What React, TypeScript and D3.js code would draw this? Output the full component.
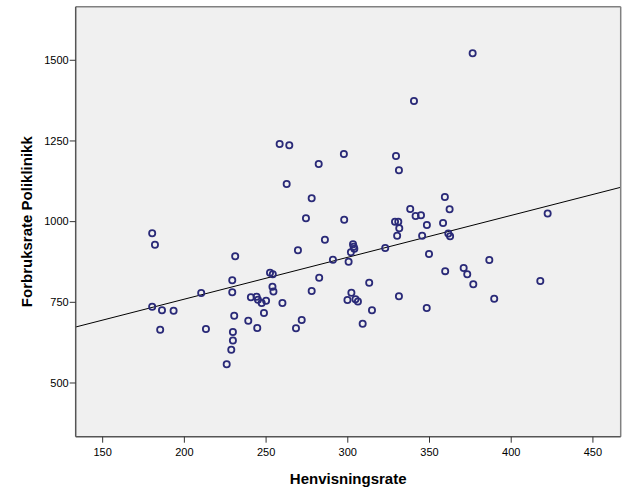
import React from "react";
import * as d3 from "d3";

const xVals = [
  376.4, 340.5, 258.3, 264.2, 297.6, 329.5, 331.3, 282.2, 262.6, 277.9,
  359.4, 338.2, 362.3, 341.5, 344.8, 274.4, 297.8, 328.9, 330.9, 348.4,
  358.3, 331.5, 330.2, 345.5, 361.5, 362.6, 422.3, 286.0, 269.5, 303.2,
  303.6, 304.0, 301.9, 322.9, 349.7, 290.9, 300.5, 252.4, 254.1, 282.5,
  313.1, 359.6, 253.9, 254.5, 277.9, 302.2, 240.7, 244.2, 245.0, 247.3,
  250.0, 248.7, 260.0, 299.8, 304.7, 306.2, 331.3, 348.3, 314.8, 239.1,
  271.8, 244.6, 268.3, 309.1, 180.3, 182.0, 231.1, 229.3, 210.3, 229.3,
  180.3, 186.3, 193.4, 230.5, 185.2, 213.2, 229.7, 229.7, 228.7, 225.9,
  386.6, 370.9, 373.1, 376.8, 417.8, 389.6,
];

const yVals = [
  1521.7, 1373.9, 1240.6, 1236.6, 1209.6, 1203.4, 1159.1, 1178.6, 1116.7, 1072.4,
  1076.4, 1039.2, 1038.3, 1017.5, 1019.7, 1010.4, 1005.7, 999.5, 999.5, 989.6,
  995.8, 979.7, 956.2, 956.2, 963.3, 954.6, 1025.3, 944.1, 911.2, 929.8,
  922.4, 916.2, 905.3, 918.3, 899.8, 882.1, 875.9, 841.8, 836.8, 826.3,
  810.8, 846.5, 798.1, 783.5, 785.1, 779.8, 765.6, 767.4, 758.1, 747.9,
  755.0, 716.9, 747.9, 757.2, 759.4, 752.6, 768.7, 732.4, 725.3, 693.1,
  695.2, 670.4, 669.5, 683.8, 963.9, 928.6, 892.6, 818.3, 778.9, 781.1,
  736.4, 725.3, 724.0, 708.2, 665.2, 667.3, 658.0, 631.7, 603.2, 557.9,
  881.2, 856.4, 836.8, 805.9, 816.1, 761.2,
];

const xTicks = [150, 200, 250, 300, 350, 400, 450];
const yTicks = [500, 750, 1000, 1250, 1500];
const fitIntercept = 500.2;
const fitSlope = 1.298;
const xTitle = "Henvisningsrate";
const yTitle = "Forbruksrate Poliklinikk";

export default function App() {
  const W = 629;
  const H = 504;
  const L = 75.7, R = 620.7, T = 6.7, B = 436.7;
  const xDomain: [number, number] = [133.5, 467];
  const x = d3.scaleLinear().domain(xDomain).range([L, R]);
  const y = d3.scaleLinear().domain([333.6, 1666]).range([B, T]);
  const pts = xVals.map((v, i) => [v, yVals[i]] as [number, number]);
  const line = d3
    .line<number>()
    .x((d) => x(d))
    .y((d) => y(fitIntercept + fitSlope * d));
  const font = "'Liberation Sans', Arial, sans-serif";
  const navy = "#2a2a78";
  return (
    <svg
      width={W}
      height={H}
      style={{ position: "absolute", left: 0, top: 0, background: "#fff" }}
    >
      <rect x={L} y={T} width={R - L} height={B - T} fill="#f0f0f0" />
      <path d={line(xDomain) || ""} stroke="#000" strokeWidth={1} fill="none" />
      {pts.map(([a, b], i) => (
        <circle
          key={i}
          cx={x(a)}
          cy={y(b)}
          r={3.1}
          fill="none"
          stroke={navy}
          strokeWidth={1.8}
        />
      ))}
      <line x1={L} x2={R} y1={T} y2={T} stroke="#808080" strokeWidth={1.5} />
      <line x1={R} x2={R} y1={T} y2={B} stroke="#808080" strokeWidth={1.5} />
      <line x1={L} x2={L} y1={T} y2={B} stroke="#555" strokeWidth={1.5} />
      <line x1={L} x2={R} y1={B} y2={B} stroke="#555" strokeWidth={1.5} />
      {yTicks.map((t) => (
        <g key={t}>
          <line x1={L - 6} x2={L} y1={y(t)} y2={y(t)} stroke="#333" strokeWidth={1} />
          <text
            x={L - 7}
            y={y(t)}
            dy="0.35em"
            textAnchor="end"
            fontFamily={font}
            fontSize={11}
            fill="#000"
          >
            {t}
          </text>
        </g>
      ))}
      {xTicks.map((t) => (
        <g key={t}>
          <line x1={x(t)} x2={x(t)} y1={B} y2={B + 6} stroke="#333" strokeWidth={1} />
          <text
            x={x(t)}
            y={B + 19}
            textAnchor="middle"
            fontFamily={font}
            fontSize={11}
            fill="#000"
          >
            {t}
          </text>
        </g>
      ))}
      <text
        x={(L + R) / 2}
        y={484}
        textAnchor="middle"
        fontFamily={font}
        fontSize={15}
        fontWeight="bold"
        fill="#000"
      >
        {xTitle}
      </text>
      <text
        transform={`translate(32, ${(T + B) / 2}) rotate(-90)`}
        textAnchor="middle"
        fontFamily={font}
        fontSize={15}
        fontWeight="bold"
        fill="#000"
      >
        {yTitle}
      </text>
    </svg>
  );
}
